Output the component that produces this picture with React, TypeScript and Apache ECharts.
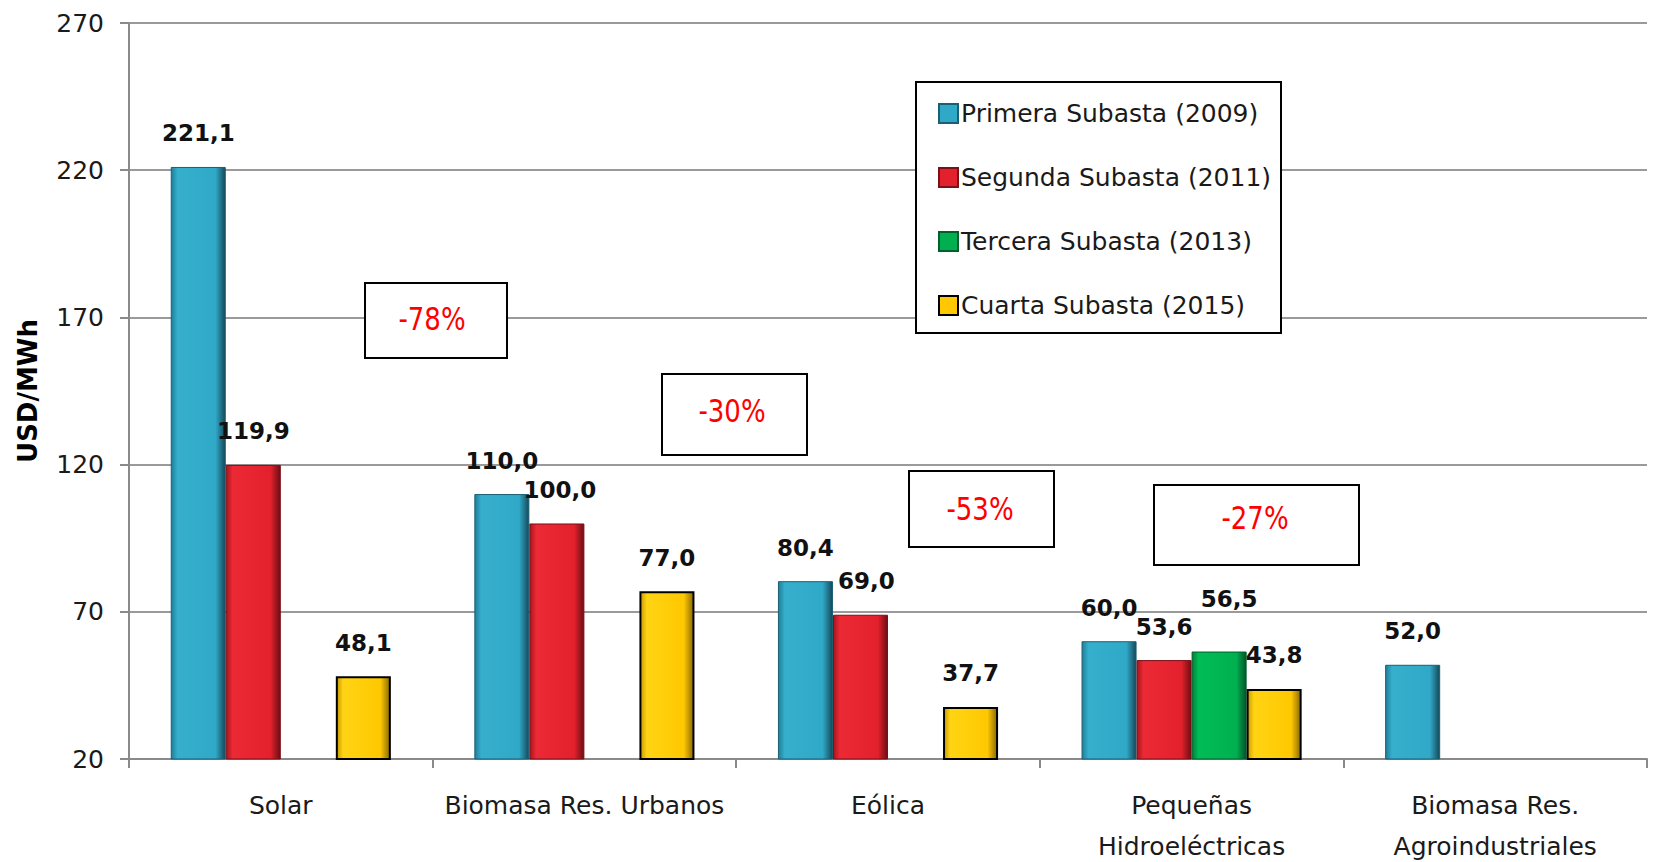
import React, { useEffect, useRef } from "react";
import * as echarts from "echarts";

const categories = [
  "Solar",
  "Biomasa Res. Urbanos",
  "Eólica",
  "Pequeñas\nHidroeléctricas",
  "Biomasa Res.\nAgroindustriales",
];
const seriesNames = [
  "Primera Subasta (2009)",
  "Segunda Subasta (2011)",
  "Tercera Subasta (2013)",
  "Cuarta Subasta (2015)",
];
const primera = [221.1, 110.0, 80.4, 60.0, 52.0];
const segunda = [119.9, 100.0, 69.0, 53.6, null];
const tercera = [null, null, null, 56.5, null];
const cuarta = [48.1, 77.0, 37.7, 43.8, null];
const yMin = 20;
const yMax = 270;
const yStep = 50;
const yAxisTitle = "USD/MWh";
const reductions = ["-78%", "-30%", "-53%", "-27%"];

const FONT = "DejaVu Sans";

function grad(c0: string, c1: string, c2: string, c3: string) {
  return new echarts.graphic.LinearGradient(0, 0, 1, 0, [
    { offset: 0, color: c0 },
    { offset: 0.12, color: c1 },
    { offset: 0.82, color: c2 },
    { offset: 1, color: c3 },
  ]);
}

export default function App() {
  const ref = useRef<HTMLDivElement>(null);
  useEffect(() => {
    document.body.style.margin = "0";
    const chart = echarts.init(ref.current!, null, { renderer: "svg" });
    const fills = [
      grad("#1f7f99", "#36afcd", "#30a8c7", "#15495a"),
      grad("#a8151e", "#ec2a36", "#e3212d", "#6e0d13"),
      grad("#00803a", "#00bd56", "#00b050", "#00552a"),
      grad("#c99a00", "#ffd414", "#ffc800", "#8a6a00"),
    ];
    const solid = ["#30a8c7", "#e3212d", "#00b050", "#ffc800"];
    const borders = ["#1b5f72", "#7a1018", "#005f2a", "#000000"];
    const borderW = [1, 1, 1, 2];
    const values = [primera, segunda, tercera, cuarta];
    const fmt = (p: any) => Number(p.value).toFixed(1).replace(".", ",");
    const labelShift: Record<string, number[]> = { "2-3": [10, -19], "1-2": [6, 0], "1-1": [3, 0] };

    const series = values.map((vals, si) => ({
      name: seriesNames[si],
      type: "bar",
      barGap: "0%",
      barCategoryGap: "27.5%",
      data: vals.map((v, ci) => {
        const off = labelShift[`${si}-${ci}`];
        return off ? { value: v, label: { offset: off } } : v;
      }),
      itemStyle: { color: fills[si], borderColor: borders[si], borderWidth: borderW[si] },
      label: {
        show: true,
        position: "top",
        distance: 22,
        formatter: fmt,
        fontFamily: FONT,
        fontWeight: "bold",
        fontSize: 23,
        color: "#111",
      },
    }));

    const boxes = [
      { x: 365, y: 283, w: 142, h: 75 },
      { x: 662, y: 374, w: 145, h: 81 },
      { x: 909, y: 471, w: 145, h: 76 },
      { x: 1154, y: 485, w: 205, h: 80 },
    ];
    const textPos = [
      [432, 319],
      [732, 411],
      [980, 509],
      [1255, 518],
    ];

    const graphic: any[] = [
      {
        type: "rect",
        shape: { x: 916, y: 82, width: 365, height: 251 },
        style: { fill: "#fff", stroke: "#000", lineWidth: 2 },
        z: 5,
      },
    ];
    boxes.forEach((b, i) => {
      graphic.push({
        type: "rect",
        shape: { x: b.x, y: b.y, width: b.w, height: b.h },
        style: { fill: "#fff", stroke: "#000", lineWidth: 2 },
        z: 5,
      });
      graphic.push({
        type: "text",
        x: textPos[i][0],
        y: textPos[i][1],
        scaleY: 1.22,
        style: {
          text: reductions[i],
          fill: "#ff0000",
          font: `26px "${FONT}"`,
          align: "center",
          verticalAlign: "middle",
        },
        z: 6,
      });
    });

    chart.setOption({
      animation: false,
      backgroundColor: "#ffffff",
      grid: { left: 129, right: 6, top: 23, bottom: 103, containLabel: false, outerBoundsMode: "none" },
      legend: {
        orient: "vertical",
        left: 933,
        top: 96,
        itemGap: 39,
        itemWidth: 19,
        itemHeight: 19,
        icon: "rect",
        z: 10,
        textStyle: { fontFamily: FONT, fontSize: 25, lineHeight: 25, color: "#1a1a1a", padding: [0, 0, 0, -2] },
        data: seriesNames.map((n, i) => ({
          name: n,
          itemStyle: { color: solid[i], borderColor: borders[i], borderWidth: 2 },
        })),
      },
      xAxis: {
        type: "category",
        data: categories,
        axisLine: { lineStyle: { color: "#8a8a8a", width: 2 } },
        axisTick: { show: true, length: 9, lineStyle: { color: "#8a8a8a", width: 2 } },
        axisLabel: {
          fontFamily: FONT,
          fontSize: 25,
          lineHeight: 41,
          color: "#1a1a1a",
          margin: 26,
          interval: 0,
        },
      },
      yAxis: {
        type: "value",
        min: yMin,
        max: yMax,
        interval: yStep,
        name: yAxisTitle,
        nameLocation: "middle",
        nameRotate: 90,
        nameGap: 88,
        nameTextStyle: { fontFamily: FONT, fontWeight: "bold", fontSize: 26, color: "#000" },
        axisLine: { show: true, lineStyle: { color: "#8a8a8a", width: 2 } },
        axisTick: { show: true, length: 9, lineStyle: { color: "#8a8a8a", width: 2 } },
        axisLabel: { fontFamily: FONT, fontSize: 25, color: "#1a1a1a", margin: 25 },
        splitLine: { show: true, lineStyle: { color: "#9a9a9a", width: 2 } },
      },
      series,
      graphic,
    });
    return () => chart.dispose();
  }, []);
  return <div ref={ref} style={{ width: 1653, height: 862 }} />;
}
